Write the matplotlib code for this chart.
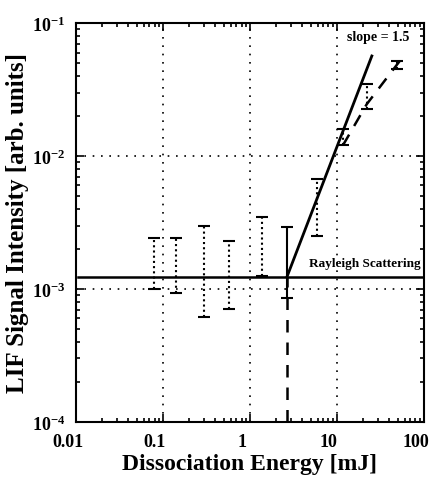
import matplotlib
matplotlib.use("Agg")
import matplotlib.pyplot as plt
import matplotlib.transforms as mtransforms
from matplotlib.ticker import FixedLocator, FixedFormatter, LogLocator, NullFormatter

plt.rcParams['font.family'] = ['Liberation Serif', 'DejaVu Serif']
plt.rcParams['font.weight'] = 'bold'
plt.rcParams['mathtext.fontset'] = 'custom'
plt.rcParams['mathtext.rm'] = 'Liberation Serif:bold'
plt.rcParams['mathtext.bf'] = 'Liberation Serif:bold'
plt.rcParams['mathtext.default'] = 'rm'

# measured LIF signal vs dissociation energy
energy = [0.079, 0.141, 0.30, 0.57, 1.37, 2.66, 5.9, 11.7, 22, 49]
signal = [1.5e-3, 1.4e-3, 1.3e-3, 1.25e-3, 2.0e-3, 1.25e-3, 4.0e-3, 1.4e-2, 2.8e-2, 4.8e-2]
err_lo = [1.0e-3, 9.3e-4, 6.1e-4, 7.1e-4, 1.25e-3, 8.6e-4, 2.5e-3, 1.2e-2, 2.25e-2, 4.5e-2]
err_hi = [2.4e-3, 2.4e-3, 3.0e-3, 2.3e-3, 3.5e-3, 2.9e-3, 6.7e-3, 1.6e-2, 3.5e-2, 5.2e-2]

# Rayleigh scattering level
rayleigh = 1.23e-3

# slope = 1.5 fit line
fit_x = [2.66, 25.2]
fit_y = [1.23e-3, 5.65e-2]

# dashed guide: threshold drop and saturation branch
drop_x = [2.66, 2.66]
drop_y = [1e-4, 1.23e-3]
sat_x = [11.7, 22, 53]
sat_y = [1.2e-2, 2.45e-2, 5.2e-2]

xticks = [0.01, 0.1, 1, 10, 100]
xticklabels = ['0.01', '0.1', '1', '10', '100']
yticks = [1e-4, 1e-3, 1e-2, 1e-1]
yticklabels = [r'$10^{-4}$', r'$10^{-3}$', r'$10^{-2}$', r'$10^{-1}$']

fig = plt.figure(figsize=(4.33, 4.85), dpi=100)
ax = fig.add_axes([0.1755, 0.128, 0.8035, 0.8225])
ax.set_xscale('log')
ax.set_yscale('log')
ax.set_xlim(0.01, 100)
ax.set_ylim(1e-4, 1e-1)

# grid at decades only
ax.grid(True, which='major', linestyle=(0, (1, 4)), color='black', linewidth=1.2)

# error bars
for i, (x, y, lo, hi) in enumerate(zip(energy, signal, err_lo, err_hi)):
    eb = ax.errorbar([x], [y], yerr=[[y - lo], [hi - y]], fmt='none', ecolor='black',
                     elinewidth=1.5, capsize=4, capthick=1.5)
    if i != 5:
        eb[2][0].set_linestyle((0, (1, 1.5)))

ax.axhline(rayleigh, color='black', linewidth=1.8, xmin=0.005, xmax=1.0)
ax.plot(fit_x, fit_y, color='black', linewidth=2)
ax.plot(drop_x, drop_y, color='black', linewidth=1.8, linestyle=(0, (5, 4)))
ax.plot(sat_x, sat_y, color='black', linewidth=1.8, linestyle=(0, (5, 4)))

ax.text(4.8, 1.5e-3, 'Rayleigh Scattering', fontsize=9.5, fontweight='bold')
ax.text(13, 7.4e-2, 'slope = 1.5', fontsize=10, fontweight='bold')

ax.xaxis.set_major_locator(FixedLocator(xticks))
ax.xaxis.set_major_formatter(FixedFormatter(xticklabels))
ax.yaxis.set_major_locator(FixedLocator(yticks))
ax.yaxis.set_major_formatter(FixedFormatter(yticklabels))
ax.xaxis.set_minor_locator(LogLocator(base=10, subs=range(2, 10), numticks=20))
ax.yaxis.set_minor_locator(LogLocator(base=10, subs=range(2, 10), numticks=20))
ax.xaxis.set_minor_formatter(NullFormatter())
ax.yaxis.set_minor_formatter(NullFormatter())
ax.tick_params(which='both', direction='in', top=True, right=True, width=1.2)
ax.tick_params(which='major', length=6, labelsize=13, pad=8)
ax.tick_params(which='minor', length=3)
for s in ax.spines.values():
    s.set_linewidth(1.5)

# shift x tick labels a little to the left, as in the original
shift = mtransforms.ScaledTranslation(-8 / 100, 0, fig.dpi_scale_trans)
for lab in ax.get_xticklabels():
    lab.set_transform(lab.get_transform() + shift)

ax.set_xlabel('Dissociation Energy [mJ]', fontsize=17, fontweight='bold', labelpad=2)
ax.set_ylabel('LIF Signal Intensity [arb. units]', fontsize=18, fontweight='bold', labelpad=2)

fig.savefig('out.png', dpi=100)
